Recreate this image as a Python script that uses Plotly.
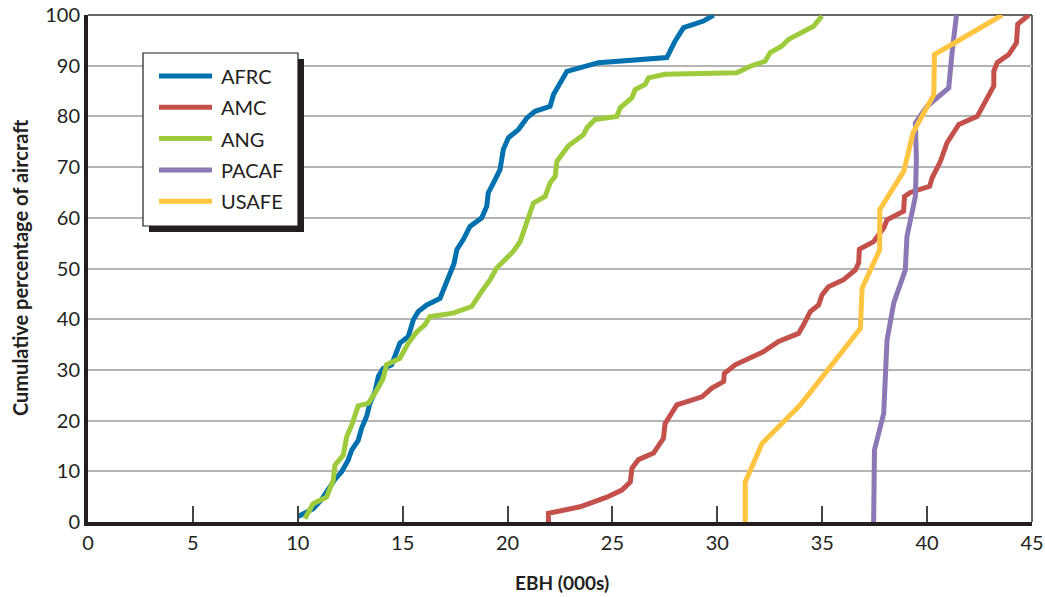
import plotly.graph_objects as go

# ---------------- data ----------------
series_names = ["AFRC", "AMC", "ANG", "PACAF", "USAFE"]
series_colors = ["#0071AE", "#C4504C", "#9DCB3C", "#8C78B4", "#FFC440"]

afrc_x = [10.02, 10.73, 11.13, 11.53, 11.77, 12.09, 12.40, 12.57, 12.88, 13.04, 13.28, 13.44, 13.68,
          13.84, 14.07, 14.47, 14.87, 15.27, 15.51, 15.74, 16.15, 16.78, 17.02, 17.26, 17.45, 17.58,
          17.89, 18.21, 18.77, 19.01, 19.08, 19.40, 19.64, 19.80, 20.04, 20.52, 20.92, 21.31, 22.03,
          22.19, 22.83, 24.33, 27.59, 27.99, 28.39, 29.34, 29.82]
afrc_y = [1.1, 2.6, 4.4, 6.9, 8.4, 9.9, 12.2, 14.2, 16.1, 18.5, 20.8, 23.4, 25.7,
          28.7, 30.3, 31.0, 35.3, 36.6, 39.9, 41.5, 42.8, 44.1, 46.4, 48.8, 51.0, 53.7,
          55.7, 58.3, 60.0, 62.3, 64.9, 67.5, 69.5, 73.5, 75.8, 77.4, 79.7, 81.0, 82.0,
          84.3, 88.9, 90.6, 91.6, 94.9, 97.5, 98.8, 100.0]

amc_x = [21.95, 21.95, 23.46, 24.73, 25.45, 25.85, 25.93, 26.24, 26.96, 27.43, 27.51, 28.07, 29.27,
         29.74, 30.30, 30.33, 30.85, 31.57, 32.20, 32.92, 33.87, 34.11, 34.43, 34.83, 34.99, 35.30,
         36.02, 36.58, 36.74, 36.77, 37.45, 37.93, 38.09, 38.88, 38.92, 39.20, 40.12, 40.24, 40.63,
         40.95, 41.11, 41.51, 42.39, 42.79, 43.18, 43.18, 43.34, 43.89, 44.26, 44.32, 44.85]
amc_y = [0.0, 1.7, 3.0, 4.9, 6.3, 7.9, 10.6, 12.3, 13.6, 16.5, 19.4, 23.1, 24.7,
         26.4, 27.7, 29.3, 31.0, 32.5, 33.6, 35.6, 37.2, 38.9, 41.5, 42.8, 44.8, 46.4,
         47.8, 49.7, 51.1, 53.8, 55.3, 58.0, 59.6, 61.3, 64.2, 65.0, 66.2, 67.9, 71.1,
         74.8, 75.8, 78.4, 80.0, 83.3, 86.0, 88.9, 90.6, 92.2, 94.5, 98.2, 100.0]

ang_x = [10.34, 10.73, 11.37, 11.69, 11.77, 12.17, 12.33, 12.57, 12.88, 13.36, 13.68, 14.07, 14.23,
         14.87, 15.27, 15.67, 16.06, 16.30, 17.41, 18.29, 18.77, 19.17, 19.48, 20.28, 20.60, 20.92,
         21.23, 21.79, 22.03, 22.27, 22.35, 22.90, 23.62, 23.78, 24.17, 25.21, 25.37, 25.93, 26.08,
         26.56, 26.72, 27.51, 30.93, 31.57, 32.28, 32.52, 33.08, 33.40, 34.11, 34.59, 34.99]
ang_y = [0.7, 3.6, 4.9, 8.2, 11.2, 13.2, 16.8, 19.1, 22.9, 23.4, 25.4, 28.3, 31.0,
         32.3, 35.3, 37.5, 38.9, 40.5, 41.2, 42.5, 45.5, 47.8, 50.1, 53.4, 55.3, 59.3,
         62.9, 64.2, 66.9, 68.2, 71.1, 74.2, 76.4, 77.7, 79.4, 80.0, 81.7, 83.7, 85.3,
         86.3, 87.6, 88.3, 88.6, 89.9, 90.9, 92.6, 93.9, 95.2, 96.8, 97.8, 99.8]

pacaf_x = [37.45, 37.45, 37.49, 37.93, 38.09, 38.41, 38.96, 39.04, 39.44, 39.49, 39.44, 40.00,
           41.03, 41.19, 41.40]
pacaf_y = [0.0, 6.9, 14.2, 21.4, 35.9, 43.2, 49.7, 56.3, 64.2, 71.5, 78.7, 82.0,
           85.6, 92.6, 100.0]

usafe_x = [31.33, 31.33, 32.13, 33.96, 36.82, 36.90, 37.74, 37.74, 38.89, 39.33, 40.32, 40.35, 43.58]
usafe_y = [0.0, 7.9, 15.5, 23.1, 38.2, 46.1, 53.7, 61.6, 69.2, 76.8, 84.3, 92.2, 100.0]

series_x = [afrc_x, amc_x, ang_x, pacaf_x, usafe_x]
series_y = [afrc_y, amc_y, ang_y, pacaf_y, usafe_y]

x_ticks = [0, 5, 10, 15, 20, 25, 30, 35, 40, 45]
y_ticks = [0, 10, 20, 30, 40, 50, 60, 70, 80, 90, 100]
x_title = "EBH (000s)"
y_title = "Cumulative percentage of aircraft"

# ---------------- figure ----------------
W, H = 1045, 597
ML, MR, MT, MB = 88, 13, 15, 75
FONT = "Lato, 'Open Sans', sans-serif"
TXT = "#231f20"

fig = go.Figure()
for name, xs, ys, col in zip(series_names, series_x, series_y, series_colors):
    fig.add_trace(go.Scatter(x=xs, y=ys, mode="lines", name=name,
                             line=dict(color=col, width=5), showlegend=False,
                             hoverinfo="skip"))

# convert page pixel positions to paper coordinates
def px2paper_x(px):
    return (px - ML) / (W - ML - MR)

def px2paper_y(py):
    return (H - MB - py) / (H - MT - MB)

shapes = []
# top and right thin border
shapes.append(dict(type="line", xref="paper", yref="paper", x0=0, x1=1, y0=1, y1=1,
                   line=dict(color="#333333", width=1.5), layer="below"))
shapes.append(dict(type="line", xref="paper", yref="paper", x0=1, x1=1, y0=0, y1=1,
                   line=dict(color="#333333", width=1.5), layer="below"))

# manual legend: shadow, box, samples
bx0, bx1, by0, by1 = 143, 298, 53, 226
shapes.append(dict(type="rect", xref="paper", yref="paper",
                   x0=px2paper_x(bx0 + 6), x1=px2paper_x(bx1 + 6),
                   y0=px2paper_y(by0 + 6), y1=px2paper_y(by1 + 6),
                   fillcolor="#231f20", line=dict(width=0)))
shapes.append(dict(type="rect", xref="paper", yref="paper",
                   x0=px2paper_x(bx0), x1=px2paper_x(bx1),
                   y0=px2paper_y(by0), y1=px2paper_y(by1),
                   fillcolor="white", line=dict(color="#231f20", width=1.2)))
annotations = []
for i, (name, col) in enumerate(zip(series_names, series_colors)):
    yc = 76 + i * 31.3
    shapes.append(dict(type="line", xref="paper", yref="paper",
                       x0=px2paper_x(159), x1=px2paper_x(212),
                       y0=px2paper_y(yc), y1=px2paper_y(yc),
                       line=dict(color=col, width=5)))
    annotations.append(dict(xref="paper", yref="paper", x=px2paper_x(219), y=px2paper_y(yc),
                            text=name, showarrow=False, xanchor="left", yanchor="middle",
                            font=dict(family=FONT, size=20, color=TXT)))

# axis titles as annotations
annotations.append(dict(xref="paper", yref="paper", x=px2paper_x(562), y=px2paper_y(582),
                        text="<b>" + x_title + "</b>", showarrow=False,
                        xanchor="center", yanchor="middle",
                        font=dict(family=FONT, size=19, color=TXT)))
annotations.append(dict(xref="paper", yref="paper", x=px2paper_x(20), y=px2paper_y(268),
                        text="<b>" + y_title + "</b>", showarrow=False, textangle=-90,
                        xanchor="center", yanchor="middle",
                        font=dict(family=FONT, size=20, color=TXT)))

fig.update_layout(
    width=W, height=H,
    margin=dict(l=ML, r=MR, t=MT, b=MB, autoexpand=False),
    paper_bgcolor="white", plot_bgcolor="white",
    showlegend=False,
    shapes=shapes, annotations=annotations,
    font=dict(family=FONT, size=20, color=TXT),
)
fig.update_xaxes(range=[0, 45], tickvals=x_ticks, ticktext=[str(v) for v in x_ticks],
                 showgrid=False, zeroline=False, automargin=False,
                 ticklabeloverflow="allow",
                 showline=True, linecolor=TXT, linewidth=4,
                 ticks="inside", ticklen=16, tickwidth=1.5, tickcolor="#444444",
                 tickfont=dict(family=FONT, size=20, color=TXT))
fig.update_yaxes(range=[0, 100], tickvals=y_ticks, ticktext=[str(v) for v in y_ticks],
                 showgrid=True, gridcolor="#b4b4b4", gridwidth=2, zeroline=False,
                 automargin=False, ticklabeloverflow="allow",
                 showline=True, linecolor=TXT, linewidth=4, ticks="",
                 tickfont=dict(family=FONT, size=20, color=TXT))

# the page body has a default 8px margin; remove it so the figure fills the window
fig.write_html("out.html", config={"displayModeBar": False},
               post_script="document.body.style.margin='0';")
